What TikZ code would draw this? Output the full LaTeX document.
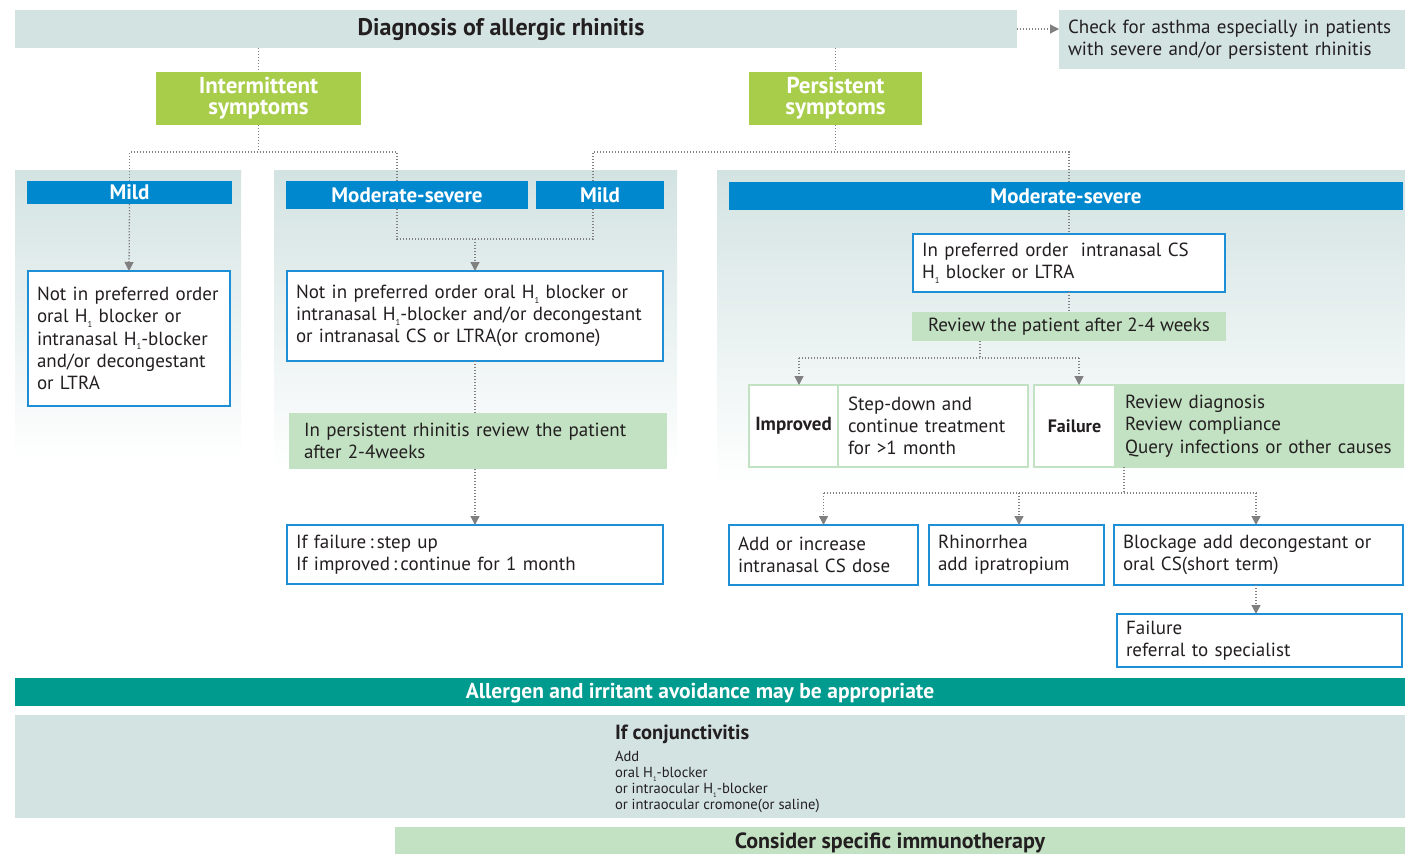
\documentclass[tikz,border=0pt]{standalone}
\usepackage{fontspec}
\setmainfont{PT Sans}
\usetikzlibrary{arrows.meta}
\definecolor{txt}{HTML}{231F20}
\definecolor{paleblue}{HTML}{D3E3E2}
\definecolor{lime}{HTML}{A8CD4B}
\definecolor{bblue}{HTML}{0088CF}
\definecolor{bborder}{HTML}{1C8FD6}
\definecolor{lgreen}{HTML}{C3E2C3}
\definecolor{tealbar}{HTML}{009B8F}
\definecolor{dotc}{HTML}{808080}
\newcommand\myfs[2]{\fontsize{#1pt}{#2pt}\selectfont}
\newcommand\sub[1]{\raisebox{-0.25em}{\fontsize{0.45em}{0.45em}\selectfont #1}}
\tikzset{
  every node/.style={text=txt, inner sep=0pt, outer sep=0pt},
  conn/.style={draw=dotc, line width=1.3pt, dash pattern=on 1.3pt off 1.7pt},
  arr/.style={conn, -{Triangle[width=9pt,length=9pt]}},
  nw/.style={anchor=north west},
  bar/.style={nw, fill=bblue, text=white, font={\bfseries\myfs{21}{22}}},
  symp/.style={nw, fill=lime, text=white, align=center, font={\bfseries\myfs{23}{21}}},
  bluebox/.style={nw, draw=bborder, line width=2pt, fill=white, align=left, inner xsep=9pt, font={\myfs{19}{22.3}}},
  greenbox/.style={nw, fill=lgreen, align=left, font={\myfs{19}{22.3}}},
  gbord/.style={nw, draw=lgreen, line width=2pt, font={\myfs{19}{22.3}}},
  panel/.style={top color=paleblue, bottom color=white}
}
\begin{document}
\begin{tikzpicture}[x=1pt,y=-1pt]
\useasboundingbox (0,0) rectangle (1405,854);
% background panels
\shade[panel] (15,170) rectangle (241,460);
\shade[panel] (274,170) rectangle (677,470);
\shade[panel] (717,170) rectangle (1405,485);

% top
\node[nw, fill=paleblue, minimum width=1002pt, minimum height=38pt] (title) at (15,10) {};
\node[font={\bfseries\myfs{24}{26}}] (titletxt) at (501,30) {Diagnosis of allergic rhinitis};
\node[nw, fill=paleblue, minimum width=346pt, minimum height=59pt, text width=328pt, inner xsep=9pt, align=left, font={\myfs{19}{22}}] (check) at (1059,10) {Check for asthma especially in patients\\with severe and/or persistent rhinitis};

\node[symp, minimum width=205pt, minimum height=53pt] (inter) at (156,72) {Intermittent\\symptoms};
\node[symp, minimum width=173pt, minimum height=53pt] (pers) at (749,72) {Persistent\\symptoms};

% bars
\node[bar, minimum width=205pt, minimum height=23pt] (mildL) at (27,181) {Mild};
\node[bar, minimum width=242pt, minimum height=28pt] (msM) at (286,181) {Moderate-severe};
\node[bar, minimum width=128pt, minimum height=28pt] (mildM) at (536,181) {Mild};
\node[bar, minimum width=674pt, minimum height=28pt] (msR) at (729,182) {Moderate-severe};

% left & middle column
\node[bluebox, minimum width=202pt, minimum height=135pt, text width=184pt] (boxL) at (28,271)
  {Not in preferred order\\oral H\sub{1} blocker or\\intranasal H\sub{1}-blocker\\and/or decongestant\\or LTRA};
\node[bluebox, minimum width=376pt, minimum height=90pt, text width=358pt] (boxM) at (287,271)
  {Not in preferred order oral H\sub{1} blocker or\\intranasal H\sub{1}-blocker and/or decongestant\\or intranasal CS or LTRA(or cromone)};
\node[greenbox, minimum width=378pt, minimum height=56pt, text width=348pt, inner xsep=15pt] (greenM) at (289,413)
  {In persistent rhinitis review the patient\\after 2-4weeks};
\node[bluebox, minimum width=376pt, minimum height=59pt, text width=358pt] (ifFail) at (287,525)
  {If failure\,:\,step up\\If improved\,:\,continue for 1 month};

% right column
\node[bluebox, minimum width=312pt, minimum height=58pt, text width=294pt] (pref) at (913,234)
  {In preferred order\ \ intranasal CS\\H\sub{1} blocker or LTRA};
\node[greenbox, minimum width=314pt, minimum height=29pt, align=center] (review) at (912,312)
  {Review the patient after 2-4 weeks};
\node[gbord, minimum width=89pt, minimum height=82pt, fill=white, font={\bfseries\myfs{19}{22}}] (impL) at (749,385) {Improved};
\node[gbord, minimum width=190pt, minimum height=82pt, fill=white, text width=170pt, inner xsep=10pt, align=left] (impR) at (838,385)
  {Step-down and\\continue treatment\\for >1 month};
\node[gbord, minimum width=81pt, minimum height=82pt, fill=white, font={\bfseries\myfs{18}{22}}] (failL) at (1034,385) {Failure};
\node[gbord, minimum width=288pt, minimum height=82pt, fill=lgreen, text width=268pt, inner xsep=10pt, align=left] (failR) at (1115,385)
  {Review diagnosis\\Review compliance\\Query infections or other causes};

\node[bluebox, minimum width=189pt, minimum height=60pt, text width=171pt] (add) at (729,525)
  {Add or increase\\intranasal CS dose};
\node[bluebox, minimum width=175pt, minimum height=60pt, text width=157pt] (rhin) at (929,525)
  {Rhinorrhea\\add ipratropium};
\node[bluebox, minimum width=289pt, minimum height=60pt, text width=271pt] (block) at (1114,525)
  {Blockage add decongestant or\\oral CS(short term)};
\node[bluebox, minimum width=285pt, minimum height=53pt, text width=267pt] (ref) at (1117,614)
  {Failure\\referral to specialist};

% bottom
\node[nw, fill=tealbar, minimum width=1390pt, minimum height=28pt] (avoid) at (15,678) {};
\node[text=white, font={\bfseries\myfs{21.5}{22}}] (avoidtxt) at (700,693) {Allergen and irritant avoidance may be appropriate};
\node[nw, fill=paleblue, minimum width=1390pt, minimum height=103pt] (conj) at (15,715) {};
\node[anchor=west, font={\bfseries\myfs{20.5}{22}}] (conjhead) at (615,734) {If conjunctivitis};
\node[anchor=west, align=left, font={\myfs{14.6}{16}}] (conjtxt) at (615,782)
  {Add\\oral H\sub{1}-blocker\\or intraocular H\sub{1}-blocker\\or intraocular cromone(or saline)};
\node[nw, fill=lgreen, minimum width=1010pt, minimum height=27pt] (immuno) at (395,827) {};
\node[font={\bfseries\myfs{22}{22}}] (immunotxt) at (890,843) {Consider specific immunotherapy};

% connectors
\coordinate (h1) at (0,152);
\coordinate (a1) at (397,152);
\coordinate (b1) at (593,152);
\coordinate (c1) at (475,239);
\draw[arr] (title.east) -- (title.east -| check.west);
\draw[conn] (title.south -| inter.north) -- (inter.north);
\draw[conn] (title.south -| pers.north) -- (pers.north);
\draw[conn] (inter.south) -- (inter.south |- h1);
\draw[conn] (mildL.north) |- (a1) -- (a1 |- msM.north);
\draw[conn] (pers.south) -- (pers.south |- h1);
\draw[conn] (b1 |- mildM.north) -- (b1) -| (pref.north |- msR.north);
\draw[arr] (mildL.south) -- (boxL.north);
\draw[conn] (a1 |- msM.south) |- (c1);
\draw[conn] (b1 |- mildM.south) |- (c1);
\draw[arr] (c1) -- (c1 |- boxM.north);
\draw[conn] (c1 |- boxM.south) -- (c1 |- greenM.north);
\draw[arr] (c1 |- greenM.south) -- (c1 |- ifFail.north);

\draw[conn] (pref.north |- msR.south) -- (pref.north);
\draw[conn] (pref.south) -- (pref.south |- review.north);
\coordinate (d1) at (980,358);
\coordinate (d2) at (799,358);
\coordinate (d3) at (1079,358);
\draw[conn] (d1 |- review.south) -- (d1);
\draw[conn] (d2) -- (d3);
\draw[arr] (d2) -- (d2 |- impL.north);
\draw[arr] (d3) -- (d3 |- failL.north);
\coordinate (e1) at (1124,493);
\draw[conn] (e1 |- failR.south) -- (e1);
\draw[conn] (add.north |- e1) -- (1256,493);
\draw[arr] (add.north |- e1) -- (add.north);
\draw[arr] (1019,493) -- (1019,525 |- rhin.north);
\draw[arr] (1256,493) -- (1256,525 |- block.north);
\draw[arr] (1256,525 |- block.south) -- (1256,525 |- ref.north);
\end{tikzpicture}
\end{document}
